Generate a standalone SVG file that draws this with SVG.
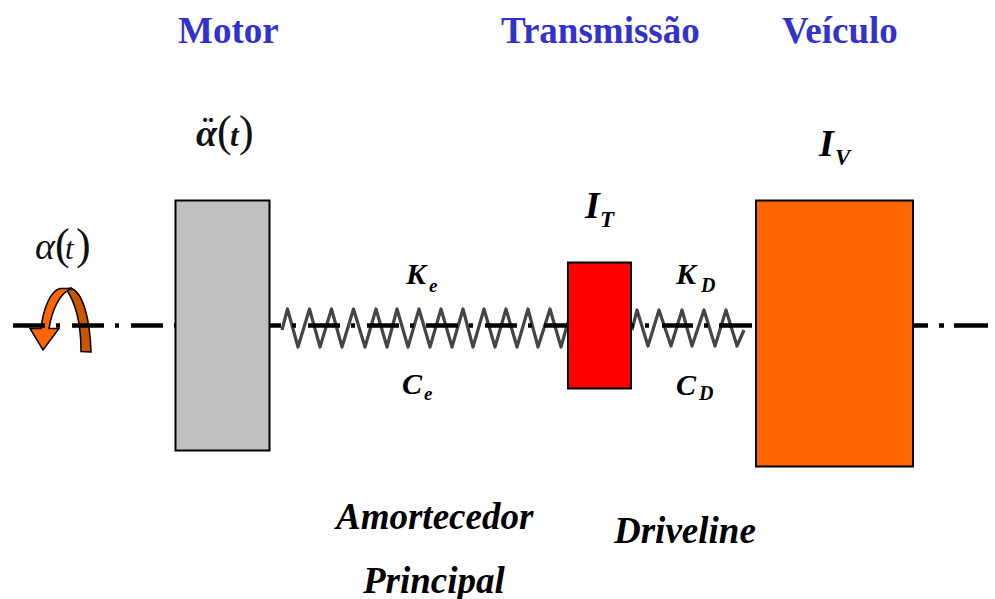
<svg xmlns="http://www.w3.org/2000/svg" width="995" height="599" viewBox="0 0 995 599">
<defs><filter id="soft" x="-5%" y="-20%" width="110%" height="140%"><feGaussianBlur stdDeviation="0.55"/></filter></defs>
<style>
.t{font-family:"Liberation Serif","Times New Roman",serif;font-weight:bold;font-size:37px;fill:#3333CC}
.i{font-family:"Liberation Serif","Times New Roman",serif;font-weight:bold;font-style:italic;fill:#000}
.m{font-family:"Liberation Serif","Times New Roman",serif;fill:#111}
.s{fill:none;stroke:#444;stroke-width:3.2;stroke-linejoin:round;filter:url(#soft)}
.d{fill:none;stroke:#000;stroke-width:4.5}
.b{stroke:#000;stroke-width:2}
</style>
<rect width="995" height="599" fill="#fff"/>
<g id="rotation">
<path d="M91 352L81 351.500C81 325 76 303 66 289L71 288C83 293 90 318 91 352Z" fill="#CC5500" stroke="#000" stroke-width="1.500"/>
<path d="M30 328.500H41C43 310 50 291 60 288.500L72 288.500C60 292 52 310 49 328.500H59L43 350Z" fill="#FF6600" stroke="#000" stroke-width="1.500"/>
</g>
<g id="connectors">
<path d="M270 327H283" stroke="#111" stroke-width="7" fill="none" filter="url(#soft)"/>
<path d="M742 329.500H756" stroke="#555" stroke-width="4" fill="none" filter="url(#soft)"/>
<path class="s" d="M282 330L287.500 309L298 347L309.500 309L320 347L331.500 309L342 347L353.500 309L365 347L376 309L387 347L397 309L408 347L419 309L430 347L441 309L452 347L463 309L473 347L484 309L495 347L506 309L517 347L528 309L538 347L550 309L561 347L568 322"/>
<path class="s" d="M632 330L637 310L648 346L659 310L671 346L682 310L692 346L704 310L715 346L726 310L737 346L744 330"/>
<path class="d" d="M13 325.500H590" stroke-dasharray="32 11 4 12"/>
<path class="d" d="M631 325.500H634M645 325.500H649M662 325.500H693M704 325.500H708M719 325.500H752"/>
<path class="d" d="M913 325.500H928M939 325.500H944M954 325.500H988"/>
</g>
<g id="motor"><rect class="b" x="175.500" y="200.500" width="94" height="250" fill="#C0C0C0"/></g>
<g id="transmissao"><rect class="b" x="568" y="262.500" width="63" height="126" fill="#FF0000"/></g>
<g id="veiculo"><rect class="b" x="756" y="200.500" width="157" height="266" fill="#FF6600"/></g>
<g id="labels">
<text class="t" x="178" y="43">Motor</text>
<text class="t" x="501" y="43">Transmissão</text>
<text class="t" x="782" y="43">Veículo</text>
<text class="m" y="259"><tspan x="35" font-size="38" font-style="italic">α</tspan><tspan x="55" font-size="44">(</tspan><tspan x="65" font-size="31" font-style="italic">t</tspan><tspan x="76" font-size="44">)</tspan></text>
<text class="m" y="146"><tspan x="196" font-size="38" font-style="italic" font-weight="bold">α</tspan><tspan x="202" y="142" font-size="36" font-weight="bold">¨</tspan><tspan x="217" y="146" font-size="44">(</tspan><tspan x="230" font-size="31" font-style="italic" font-weight="bold">t</tspan><tspan x="239" font-size="44">)</tspan></text>
<text class="i" x="819" y="156" font-size="38">I</text><text class="i" x="835" y="165" font-size="23">V</text>
<text class="i" x="585" y="218" font-size="38">I</text><text class="i" x="600" y="227" font-size="23">T</text>
<text class="i" x="406" y="284" font-size="30">K</text><text class="i" x="429" y="292" font-size="19">e</text>
<text class="i" x="402" y="394" font-size="30">C</text><text class="i" x="424" y="400" font-size="19">e</text>
<text class="i" x="676" y="284" font-size="30">K</text><text class="i" x="701" y="292" font-size="20">D</text>
<text class="i" x="676" y="395" font-size="30">C</text><text class="i" x="699" y="400" font-size="20">D</text>
<text class="i" x="336" y="529" font-size="37">Amortecedor</text>
<text class="i" x="363" y="593" font-size="37">Principal</text>
<text class="i" x="614" y="543" font-size="37">Driveline</text>
</g>
</svg>
